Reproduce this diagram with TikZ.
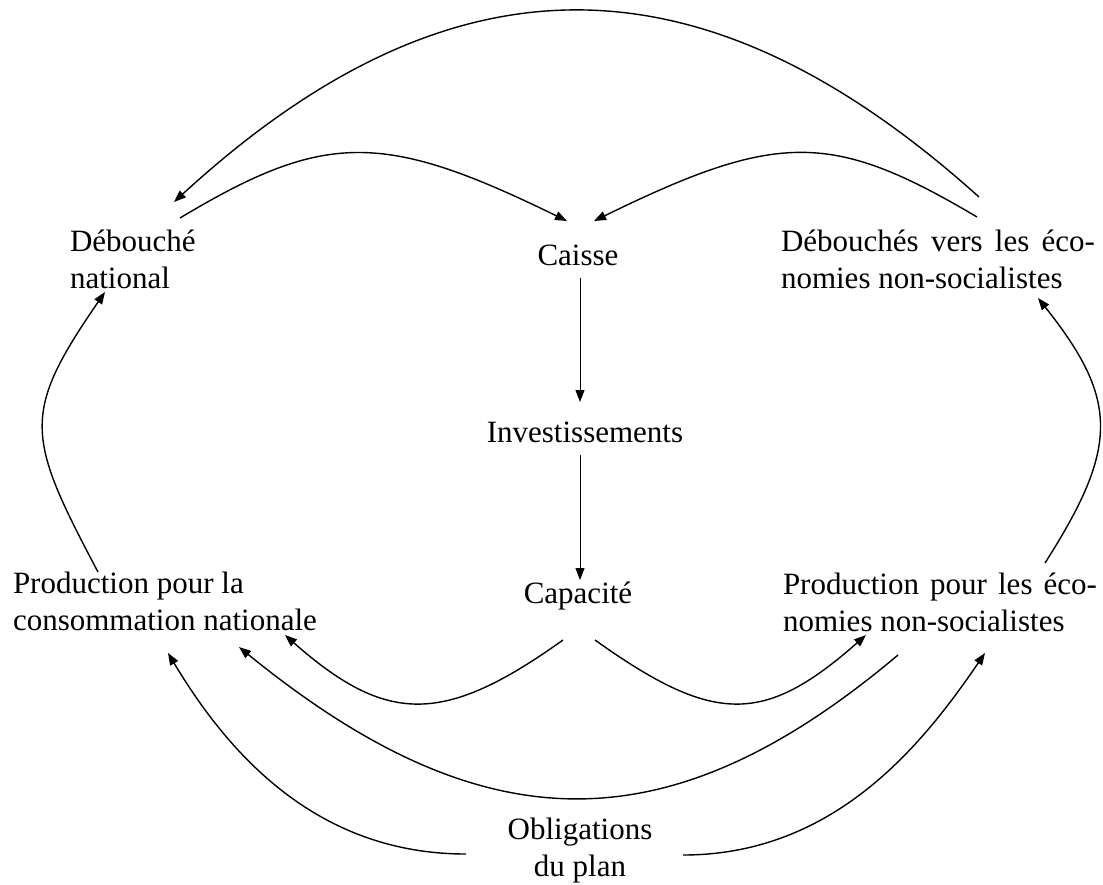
\documentclass[tikz,border=0pt]{standalone}
\usepackage{fontspec}
\setmainfont{Liberation Serif}
\usepackage{tikz}
\usetikzlibrary{
	arrows.meta,
	positioning
}

\begin{document}
\begin{tikzpicture}
[x=1pt,y=-1pt,
lbl/.style={inner sep=0pt,outer sep=0pt,font=\fontsize{31}{37}\selectfont},
wide/.style={lbl,text width=314pt,align=justify},
flow/.style={line width=1.4pt,-{Triangle[length=12pt,width=9pt]}},
down/.style={line width=1pt,-{Triangle[length=12pt,width=9pt]}}]
\useasboundingbox (0,0) rectangle (1103,884);
\node (deb) at (70,230) [lbl,anchor=north west,align=left] {Débouché\\national};
\node (caisse) at (578,265) [lbl,anchor=base] {Caisse};
\node (debx) at (781,230) [wide,anchor=north west] {Débouchés vers les éco-\linebreak nomies non-socialistes};
\node (invest) at (585,442) [lbl,anchor=base] {Investissements};
\node (capa) at (578,603) [lbl,anchor=base] {Capacité};
\node (prodn) at (13,572) [lbl,anchor=north west,align=left] {Production pour la\\consommation nationale};
\node (prodx) at (783,573) [wide,anchor=north west] {Production pour les éco-\linebreak nomies non-socialistes};
\node (oblig) at (580,818) [lbl,anchor=north,align=center] {Obligations\\du plan};
% upper arcs
\draw [flow] ([shift={(198,-33)}]debx.north west) .. controls +(-277,-249) and +(277,-254) .. ([shift={(104,-28)}]deb.north west);
\draw [flow] ([shift={(110,-12)}]deb.north west) .. controls +(145,-87) and +(-184,-90) .. ([shift={(-11,-44)}]caisse.base);
\draw [flow] ([shift={(196,-13)}]debx.north west) .. controls +(-145,-86) and +(184,-90) .. ([shift={(16,-44)}]caisse.base);
% centre column
\draw [down] ([shift={(2,13)}]caisse.base) -- ([shift={(-5,-40)}]invest.base);
\draw [down] ([shift={(-5,13)}]invest.base) -- ([shift={(2,-23)}]capa.base);
% side arcs
\draw [flow] ([shift={(85,0)}]prodn.north west) .. controls +(-72,-136) and +(-84,122) .. ([shift={(35,62)}]deb.north west);
\draw [flow] ([shift={(262,-10)}]prodx.north west) .. controls +(74,-116) and +(81,102) .. ([shift={(257,68)}]debx.north west);
% lower arcs
\draw [flow] ([shift={(-15,37)}]capa.base) .. controls +(-119,85) and +(102,90) .. ([shift={(272,63)}]prodn.north west);
\draw [flow] ([shift={(17,37)}]capa.base) .. controls +(119,85) and +(-102,90) .. ([shift={(83,62)}]prodx.north west);
\draw [flow] ([shift={(115,82)}]prodx.north west) .. controls +(-228,192) and +(246,200) .. ([shift={(226,75)}]prodn.north west);
\draw [flow] ([shift={(-114,36)}]oblig.north) .. controls +(-150,0) and +(60,100) .. ([shift={(155,81)}]prodn.north west);
\draw [flow] ([shift={(103,37)}]oblig.north) .. controls +(150,0) and +(-64,94) .. ([shift={(202,80)}]prodx.north west);
\end{tikzpicture}
\end{document}
